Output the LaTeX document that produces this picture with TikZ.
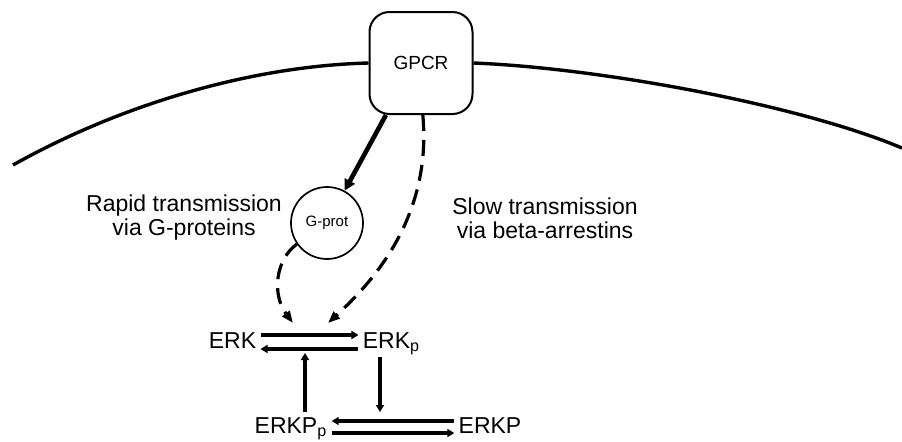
\documentclass[tikz,border=0pt]{standalone}
\usepackage{fontspec}
\setmainfont{Liberation Sans}
\usetikzlibrary{arrows.meta,positioning}
\tikzset{
  receptor/.style={rectangle,rounded corners=10pt,draw=black,line width=1pt,minimum width=51.5pt,minimum height=51pt,font=\fontsize{9.5}{11}\selectfont},
  gprotein/.style={circle,draw=black,line width=0.85pt,minimum size=36pt,inner sep=0pt,font=\fontsize{7.5}{9}\selectfont},
  species/.style={inner sep=2pt,text height=8.5pt,text depth=2.5pt,font=\fontsize{11.5}{12}\selectfont},
  route/.style={align=center,font=\fontsize{11.5}{12}\selectfont},
  membrane/.style={draw,line width=1.7pt},
  fast/.style={draw,line width=2.3pt,-{Triangle[length=5.5pt,width=5.5pt]}},
  slow/.style={draw,line width=1.6pt,dash pattern=on 8pt off 4.5pt,-{Triangle[length=6pt,width=4.5pt]}},
  rxn/.style={draw,line width=1.8pt,-{Triangle[length=3.5pt,width=4pt]}},
}
\begin{document}
\begin{tikzpicture}[x=0.5pt,y=-0.5pt]
    \useasboundingbox (0,0) rectangle (902,441);

    \node[receptor] (gpcr) at (421,63) {GPCR};
    \node[gprotein] (gprot) at (327,223) {G-prot};

    \node[route] (rapid) at (184,218) {Rapid transmission\\via G-proteins};
    \node[route] (slowtxt) at (545,218) {Slow transmission\\via beta-arrestins};

    \node[species] (erk) at (232.5,342) {ERK};
    \node[species,right of=erk,node distance=79.5pt] (erkp) {ERK\textsubscript{p}};
    \node[species] (erkpp) at (291,427) {ERKP\textsubscript{p}};
    \node[species,right of=erkpp,node distance=99.5pt] (erkP) {ERKP};

    \coordinate (tipg) at (293,323);
    \coordinate (tipb) at (328,323);
    \coordinate (upend) at (305,353);
    \coordinate (downend) at (380,412);

    \path[membrane] (13,165) .. controls (120,105) and (250,66) .. (gpcr.west);
    \path[membrane] (gpcr.east) .. controls (600,68) and (800,105) .. (902,148);

    \path[fast] (gpcr.236) -- (gprot);
    \path[slow] (gpcr.272) .. controls (432,215) and (375,280) .. (tipb);
    \path[slow] (gprot.215) .. controls (275,260) and (272,295) .. (tipg);

    \path[rxn] ([yshift=3.5pt]erk.east) -- ([yshift=3.5pt]erkp.west);
    \path[rxn] ([yshift=-3.5pt]erkp.west) -- ([yshift=-3.5pt]erk.east);
    \path[rxn] ([yshift=3pt]erkP.west) -- ([yshift=3pt]erkpp.east);
    \path[rxn] ([yshift=-3pt]erkpp.east) -- ([yshift=-3pt]erkP.west);
    \path[rxn] ([xshift=7pt]erkpp.north) -- (upend);
    \path[rxn] ([xshift=-5.75pt]erkp.south) -- (downend);
\end{tikzpicture}
\end{document}
